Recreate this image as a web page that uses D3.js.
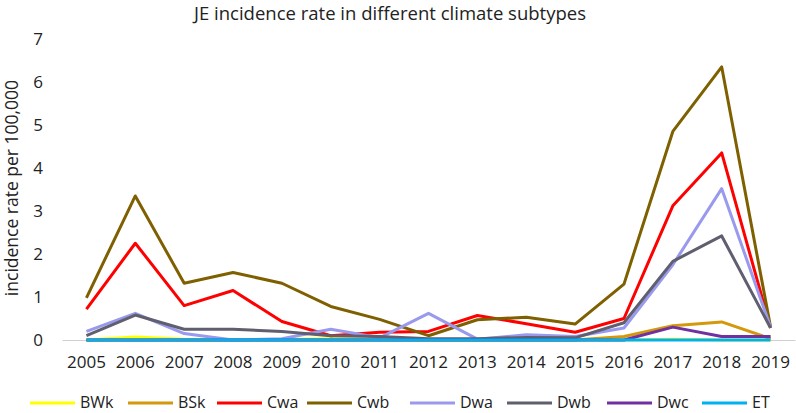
<!DOCTYPE html>
<html><head><meta charset="utf-8">
<script src="https://cdn.jsdelivr.net/npm/d3@7/dist/d3.min.js"></script>
<style>body{margin:0;background:#fff}svg{display:block;font-family:"Open Sans",sans-serif}</style>
</head><body><svg id="c" width="796" height="413"></svg>
<script>
const years = ["2005","2006","2007","2008","2009","2010","2011","2012","2013","2014","2015","2016","2017","2018","2019"];
const yTicks = [0,1,2,3,4,5,6,7];
const BWk = [0,0.07,0.02,0,0.01,0.03,0.01,0,0,0,0,0,0.02,0,0];
const BSk = [0,0,0,0,0,0,0,0,0,0,0,0.08,0.33,0.42,0.03];
const Cwa = [0.72,2.25,0.8,1.15,0.43,0.1,0.18,0.2,0.57,0.38,0.18,0.5,3.12,4.35,0.28];
const Cwb = [0.98,3.35,1.32,1.57,1.32,0.78,0.48,0.1,0.47,0.53,0.37,1.3,4.85,6.35,0.3];
const Dwa = [0.2,0.62,0.15,0,0.03,0.25,0.05,0.62,0.02,0.12,0.08,0.28,1.75,3.52,0.3];
const Dwb = [0.1,0.58,0.25,0.25,0.2,0.1,0.08,0.03,0.03,0.06,0.05,0.4,1.83,2.42,0.28];
const Dwc = [0,0,0,0,0,0,0,0,0,0,0,0,0.3,0.08,0.08];
const ET = [0,0,0,0,0,0,0,0,0,0,0,0,0,0,0];
const seriesNames = ["BWk","BSk","Cwa","Cwb","Dwa","Dwb","Dwc","ET"];
const seriesValues = [BWk,BSk,Cwa,Cwb,Dwa,Dwb,Dwc,ET];
const colors = ["#FFFF00","#D4980C","#FF0000","#7F6000","#9999EE","#5F5F6F","#7030A0","#00B0F0"];

const svg = d3.select("#c");
const x = d3.scaleBand().domain(years).range([62,795]);
const y = d3.scaleLinear().domain([0,7]).range([340,39]);

svg.append("text").attr("x",390).attr("y",20).attr("text-anchor","middle")
  .attr("font-size",18.5).attr("fill","#222").text("JE incidence rate in different climate subtypes");

svg.append("text").attr("transform","translate(18,188) rotate(-90)").attr("text-anchor","middle")
  .attr("font-size",17.5).attr("fill","#222").text("incidence rate per 100,000");

const ya = svg.append("g").attr("transform","translate(62,0)")
  .call(d3.axisLeft(y).tickValues(yTicks).tickFormat(d3.format("d")).tickSize(0).tickPadding(19));
ya.select(".domain").remove();
ya.selectAll("text").attr("font-size",17).attr("fill","#222").attr("font-family","'Open Sans',sans-serif");

const xa = svg.append("g").attr("transform","translate(0,340)")
  .call(d3.axisBottom(x).tickSize(0).tickPadding(16));
xa.select(".domain").attr("stroke","#d0d0d0").attr("stroke-width",1);
xa.selectAll("text").attr("font-size",17).attr("fill","#222").attr("font-family","'Open Sans',sans-serif");

const line = d3.line().x((d,i)=>x(years[i])+x.bandwidth()/2).y(d=>y(d));
seriesValues.forEach((vals,k)=>{
  svg.append("path").datum(vals).attr("d",line).attr("fill","none")
    .attr("stroke",colors[k]).attr("stroke-width",3).attr("stroke-linejoin","round");
});

const legX = [30,128,217,307,410,507,607,702];
const lg = svg.append("g");
seriesNames.forEach((n,k)=>{
  lg.append("line").attr("x1",legX[k]).attr("x2",legX[k]+45).attr("y1",403).attr("y2",403)
    .attr("stroke",colors[k]).attr("stroke-width",3);
  lg.append("text").attr("x",legX[k]+50).attr("y",408).attr("font-size",16).attr("fill","#222").text(n);
});
</script></body></html>
